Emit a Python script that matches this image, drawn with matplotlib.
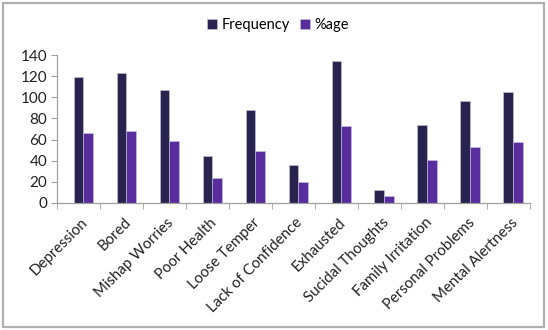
import matplotlib

matplotlib.use("Agg")

import matplotlib.pyplot as plt
import numpy as np
from matplotlib.patches import Rectangle

categories = [
    "Depression", "Bored", "Mishap Worries", "Poor Health", "Loose Temper",
    "Lack of Confidence", "Exhausted", "Sucidal Thoughts", "Family Irritation",
    "Personal Problems", "Mental Alertness",
]
frequency = [119, 123, 107, 44, 88, 36, 134, 12, 74, 97, 105]
percentage = [66, 68, 59, 24, 49, 20, 73, 7, 41, 53, 58]
y_ticks = [0, 20, 40, 60, 80, 100, 120, 140]

plt.rcParams["font.family"] = ["Lato", "DejaVu Sans"]

fig = plt.figure(figsize=(5.48, 3.30), dpi=100)
ax = fig.add_axes([0.104, 0.385, 0.863, 0.448])

x = np.arange(len(categories))
w = 0.23
ax.bar(x, frequency, width=w, color="#28234f", edgecolor="#c8c8dc",
       linewidth=0.4, label="Frequency", zorder=2)
ax.bar(x + w, percentage, width=w, color="#5a2d9f", edgecolor="#c8c8dc",
       linewidth=0.4, label="%age", zorder=2)

ax.set_xlim(-0.5, len(categories) - 0.5)
ax.set_ylim(0, 140)
ax.set_yticks(y_ticks)
ax.tick_params(axis="y", labelsize=11, length=4, color="#a0a0a0",
               labelcolor="#222222", pad=3)

ax.set_xticks(x + 0.05)
ax.set_xticklabels(categories, rotation=45, ha="right", rotation_mode="anchor",
                   fontsize=10.8, color="#222222")
ax.tick_params(axis="x", length=0, pad=9)
ax.set_xticks(np.arange(len(categories) + 1) - 0.5, minor=True)
ax.tick_params(axis="x", which="minor", length=4, color="#a0a0a0")

for side in ["top", "right"]:
    ax.spines[side].set_visible(False)
for side in ["left", "bottom"]:
    ax.spines[side].set_color("#a0a0a0")
    ax.spines[side].set_linewidth(0.9)

fig.legend(loc="center", bbox_to_anchor=(0.507, 0.925), ncol=2, frameon=False,
           fontsize=10.5, handlelength=0.7, handleheight=0.7, handletextpad=0.3,
           columnspacing=0.7)

fig.patches.append(Rectangle((0.006, 0.01), 0.987, 0.98, transform=fig.transFigure,
                             fill=False, edgecolor="#b0b0b0", linewidth=1.6))

fig.savefig("out.png", dpi=100)
